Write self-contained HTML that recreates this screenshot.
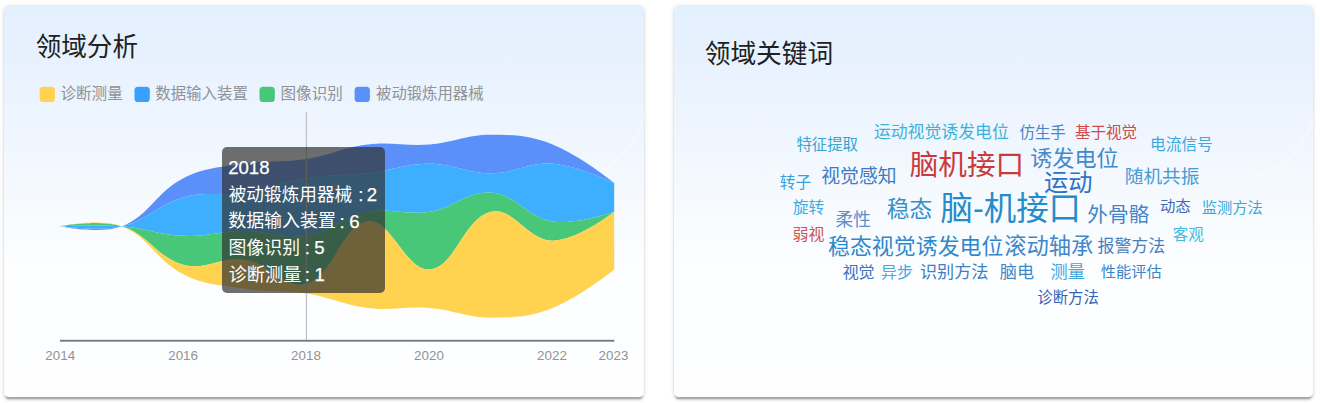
<!DOCTYPE html>
<html lang="zh-CN"><head><meta charset="utf-8"><title>领域分析</title>
<style>
html,body{margin:0;padding:0;background:#fff}
body{width:1320px;height:403px;position:relative;overflow:hidden;font-family:"Liberation Sans","Noto Sans CJK SC",sans-serif}
.card{position:absolute;top:5px;width:640px;height:392px;border-radius:5px;
 background:linear-gradient(180deg,#e3f0fe 0%,#e8f2fe 15%,#eef5fe 30%,#f4f9fe 45%,#f9fcff 58%,#fdfeff 70%,#fefeff 100%);
 box-shadow:0 3.75px 1.25px -2.5px rgba(0,0,0,.2),0 2.5px 2.5px 0 rgba(0,0,0,.14),0 1.25px 5px 0 rgba(0,0,0,.1)}
svg.l{position:absolute;left:0;top:0;font-family:"Liberation Sans","Noto Sans CJK SC",sans-serif}
.t{position:absolute;white-space:nowrap;color:transparent;margin:0}
.ax{position:absolute;top:348px;width:60px;text-align:center;font-size:13.75px;line-height:16px;color:#8b8b8b}
.tt{position:absolute;left:222.1px;top:147px;width:162.5px;height:145.5px;border-radius:5px;background:rgba(50,50,50,.7)}
.tv{position:absolute;color:#fff;font-size:17.5px;line-height:21px;white-space:pre}
</style></head><body>
<div class="card" style="left:4px;width:639.8px"></div>
<div class="card" style="left:674.2px;width:639.3px"></div>
<svg class="l" width="1320" height="403" viewBox="0 0 1320 403">
<defs><filter id="b2"><feGaussianBlur stdDeviation="1"/></filter></defs>
<g transform="translate(0 0)" fill="none" stroke="#fff" filter="url(#b2)"><path d="M1248 180C1280 172 1300 154 1314 118" stroke-width="1.8" opacity=".5"/></g><g transform="translate(-670 0)" fill="none" stroke="#fff" filter="url(#b2)"><path d="M1248 180C1280 172 1300 154 1314 118" stroke-width="1.8" opacity=".5"/></g>
<g><path d="M60.3 226.25C60.3 226.25 100.15 234.73 121.84 226.25C149.38 215.49 156.18 191.97 183.39 178.15C205.41 166.96 220.02 167.61 244.93 163.72C269.26 159.92 282.15 162.71 306.48 158.91C331.39 155.02 343.08 147.4 368.02 144.48C392.31 141.63 405.1 146.39 429.57 144.48C454.33 142.54 466.49 134.86 491.11 134.86C515.73 134.86 529.92 135.59 552.66 144.48C579.15 154.83 614.2 182.96 614.2 182.96L614.2 182.96C614.2 182.96 577.7 165.68 552.66 163.72C528.46 161.83 515.73 173.34 491.11 173.34C466.49 173.34 454.18 163.72 429.57 163.72C404.95 163.72 392.75 170.44 368.02 173.34C343.52 176.21 330.8 174.35 306.48 178.15C281.57 182.04 269.84 188.69 244.93 192.58C220.61 196.38 206.82 190.98 183.39 197.39C157.59 204.45 147.68 220.19 121.84 226.25C98.45 231.74 60.3 226.25 60.3 226.25Z" fill="#5b8ff9"/><path d="M60.3 226.25C60.3 226.25 98.45 231.74 121.84 226.25C147.68 220.19 157.59 204.45 183.39 197.39C206.82 190.98 220.61 196.38 244.93 192.58C269.84 188.69 281.57 182.04 306.48 178.15C330.8 174.35 343.52 176.21 368.02 173.34C392.75 170.44 404.95 163.72 429.57 163.72C454.18 163.72 466.49 173.34 491.11 173.34C515.73 173.34 528.46 161.83 552.66 163.72C577.7 165.68 614.2 182.96 614.2 182.96L614.2 211.82C614.2 211.82 576.2 225.12 552.66 221.44C526.96 217.42 516.38 194.55 491.11 192.58C467.14 190.71 454.76 207.88 429.57 211.82C405.52 215.58 391.77 207.18 368.02 211.82C342.53 216.8 331.93 231.89 306.48 235.87C282.7 239.59 269.55 231.06 244.93 231.06C220.32 231.06 207.9 236.83 183.39 235.87C158.66 234.9 146.61 228.19 121.84 226.25C97.38 224.34 60.3 226.25 60.3 226.25Z" fill="#3eaeff"/><path d="M60.3 226.25C60.3 226.25 97.38 224.34 121.84 226.25C146.61 228.19 158.66 234.9 183.39 235.87C207.9 236.83 220.32 231.06 244.93 231.06C269.55 231.06 282.7 239.59 306.48 235.87C331.93 231.89 342.53 216.8 368.02 211.82C391.77 207.18 405.52 215.58 429.57 211.82C454.76 207.88 467.14 190.71 491.11 192.58C516.38 194.55 526.96 217.42 552.66 221.44C576.2 225.12 614.2 211.82 614.2 211.82L614.2 211.82C614.2 211.82 577.27 240.68 552.66 240.68C528.04 240.68 513.08 206.67 491.11 211.82C463.84 218.21 455.13 267.54 429.57 269.54C405.9 271.39 391.21 218.72 368.02 221.44C341.98 224.49 334.56 275.19 306.48 283.97C285.33 290.58 270.39 263.9 244.93 259.92C221.15 256.2 206.02 270.92 183.39 264.73C156.78 257.45 148.49 234.58 121.84 226.25C99.25 219.19 60.3 226.25 60.3 226.25Z" fill="#48c778"/><path d="M60.3 226.25C60.3 226.25 99.25 219.19 121.84 226.25C148.49 234.58 156.78 257.45 183.39 264.73C206.02 270.92 221.15 256.2 244.93 259.92C270.39 263.9 285.33 290.58 306.48 283.97C334.56 275.19 341.98 224.49 368.02 221.44C391.21 218.72 405.9 271.39 429.57 269.54C455.13 267.54 463.84 218.21 491.11 211.82C513.08 206.67 528.04 240.68 552.66 240.68C577.27 240.68 614.2 211.82 614.2 211.82L614.2 269.54C614.2 269.54 579.15 297.67 552.66 308.02C529.92 316.91 515.73 317.64 491.11 317.64C466.49 317.64 454.33 309.96 429.57 308.02C405.1 306.11 392.31 310.87 368.02 308.02C343.08 305.1 331.39 297.48 306.48 293.59C282.15 289.79 269.26 292.58 244.93 288.78C220.02 284.89 205.41 285.54 183.39 274.35C156.18 260.53 149.38 237.01 121.84 226.25C100.15 217.77 60.3 226.25 60.3 226.25Z" fill="#ffd34f"/></g>
<rect x="60" y="339.8" width="554.3" height="1.9" fill="#777a80"/>
<rect x="305.8" y="112" width="1.25" height="228" fill="#bfc1c4"/>
<g><rect x="39.65" y="86.7" width="15.3" height="15.3" rx="3.6" fill="#ffd34f"/><rect x="134.5" y="86.7" width="15.3" height="15.3" rx="3.6" fill="#3aa0ff"/><rect x="259.5" y="86.7" width="15.3" height="15.3" rx="3.6" fill="#48c778"/><rect x="354.6" y="86.7" width="15.3" height="15.3" rx="3.6" fill="#5b8ff9"/></g>
<g font-size="13.4" fill="#929292" text-anchor="middle"><text x="60.25" y="360.1">2014</text><text x="183.1" y="360.1">2016</text><text x="306" y="360.1">2018</text><text x="429" y="360.1">2020</text><text x="552" y="360.1">2022</text><text x="613.5" y="360.1">2023</text></g>
<g><text x="35.63" y="55.85" font-size="25.62" fill="#212121">领域分析</text><text x="704.73" y="62.54" font-size="25.7" fill="#212121">领域关键词</text></g>
<text x="60.54" y="98.56" font-size="15.54" fill="#8f9297">诊断测量</text>
<text x="155.2" y="98.56" font-size="15.44" fill="#8f9297">数据输入装置</text>
<text x="280.49" y="98.57" font-size="15.59" fill="#8f9297">图像识别</text>
<text x="376.04" y="98.56" font-size="15.36" fill="#8f9297">被动锻炼用器械</text>
<text x="796.4" y="150.22" font-size="15.4" fill="#36a5d2">特征提取</text>
<text x="873.88" y="137.69" font-size="16.86" fill="#3db2d8">运动视觉诱发电位</text>
<text x="1019.51" y="137.96" font-size="15.41" fill="#4a86c8">仿生手</text>
<text x="1074.94" y="138.36" font-size="15.54" fill="#d24a4a">基于视觉</text>
<text x="909.7" y="174.52" font-size="28.61" fill="#cb3a3a">脑机接口</text>
<text x="1030.3" y="165.75" font-size="22.05" fill="#4389c9">诱发电位</text>
<text x="1044.1" y="190.81" font-size="24.24" fill="#2e72c8">运动</text>
<text x="821.26" y="182.81" font-size="18.87" fill="#3f7bc3">视觉感知</text>
<text x="779.87" y="187.81" font-size="15.68" fill="#36a3e0">转子</text>
<text x="792.82" y="213.11" font-size="15.79" fill="#3fabe0">旋转</text>
<text x="886.75" y="216.53" font-size="22.73" fill="#358fcb">稳态</text>
<text x="940.59" y="220.15" font-size="32.42" fill="#268bc9">脑-机接口</text>
<text x="1150.02" y="150.3" font-size="15.69" fill="#3ea7e0">电流信号</text>
<text x="1124.78" y="182.99" font-size="18.66" fill="#479bd4">随机共振</text>
<text x="1159.92" y="212.36" font-size="15.36" fill="#4568b6">动态</text>
<text x="1201.8" y="213.32" font-size="15.28" fill="#36a9d8">监测方法</text>
<text x="1087.21" y="222" font-size="20.69" fill="#4386c8">外骨骼</text>
<text x="835.58" y="226.35" font-size="17.66" fill="#5b8fcb">柔性</text>
<text x="792.44" y="239.65" font-size="15.94" fill="#cf5555">弱视</text>
<text x="828.03" y="254.33" font-size="21.93" fill="#2f88ca">稳态视觉诱发电位</text>
<text x="1004.15" y="254.48" font-size="22.27" fill="#4386c8">滚动轴承</text>
<text x="842.63" y="277.52" font-size="15.99" fill="#3f72be">视觉</text>
<text x="880.92" y="277.94" font-size="16.05" fill="#47a7e1">异步</text>
<text x="919.89" y="278.05" font-size="17.15" fill="#3f7fc3">识别方法</text>
<text x="999.77" y="278.01" font-size="17.19" fill="#3f88c8">脑电</text>
<text x="1050.6" y="277.97" font-size="17.21" fill="#3fa6dc">测量</text>
<text x="1172.71" y="239.59" font-size="15.53" fill="#47b9dc">客观</text>
<text x="1097.46" y="252.11" font-size="16.95" fill="#477fbe">报警方法</text>
<text x="1100.82" y="276.92" font-size="15.26" fill="#3a84c8">性能评估</text>
<text x="1037.29" y="302.6" font-size="15.4" fill="#3a62b0">诊断方法</text>
</svg>
<div class="t" style="left:35.63px;top:33.3px;font-size:25.62px;line-height:29.72px">领域分析</div><div class="t" style="left:704.73px;top:39.92px;font-size:25.7px;line-height:29.81px">领域关键词</div><div class="t" style="left:60.54px;top:84.89px;font-size:15.54px;line-height:18.03px">诊断测量</div><div class="t" style="left:155.2px;top:84.97px;font-size:15.44px;line-height:17.91px">数据输入装置</div><div class="t" style="left:280.49px;top:84.85px;font-size:15.59px;line-height:18.09px">图像识别</div><div class="t" style="left:376.04px;top:85.04px;font-size:15.36px;line-height:17.82px">被动锻炼用器械</div><div class="t" style="left:796.4px;top:136.67px;font-size:15.4px;line-height:17.87px">特征提取</div><div class="t" style="left:873.88px;top:122.85px;font-size:16.86px;line-height:19.56px">运动视觉诱发电位</div><div class="t" style="left:1019.51px;top:124.4px;font-size:15.41px;line-height:17.87px">仿生手</div><div class="t" style="left:1074.94px;top:124.69px;font-size:15.54px;line-height:18.02px">基于视觉</div><div class="t" style="left:909.7px;top:149.34px;font-size:28.61px;line-height:33.19px">脑机接口</div><div class="t" style="left:1030.3px;top:146.35px;font-size:22.05px;line-height:25.58px">诱发电位</div><div class="t" style="left:1044.1px;top:169.48px;font-size:24.24px;line-height:28.12px">运动</div><div class="t" style="left:821.26px;top:166.21px;font-size:18.87px;line-height:21.89px">视觉感知</div><div class="t" style="left:779.87px;top:174.01px;font-size:15.68px;line-height:18.19px">转子</div><div class="t" style="left:792.82px;top:199.22px;font-size:15.79px;line-height:18.31px">旋转</div><div class="t" style="left:886.75px;top:196.53px;font-size:22.73px;line-height:26.36px">稳态</div><div class="t" style="left:940.59px;top:191.63px;font-size:32.42px;line-height:37.61px">脑-机接口</div><div class="t" style="left:1150.02px;top:136.49px;font-size:15.69px;line-height:18.21px">电流信号</div><div class="t" style="left:1124.78px;top:166.57px;font-size:18.66px;line-height:21.64px">随机共振</div><div class="t" style="left:1159.92px;top:198.84px;font-size:15.36px;line-height:17.82px">动态</div><div class="t" style="left:1201.8px;top:199.88px;font-size:15.28px;line-height:17.72px">监测方法</div><div class="t" style="left:1087.21px;top:203.79px;font-size:20.69px;line-height:24px">外骨骼</div><div class="t" style="left:835.58px;top:210.81px;font-size:17.66px;line-height:20.49px">柔性</div><div class="t" style="left:792.44px;top:225.62px;font-size:15.94px;line-height:18.48px">弱视</div><div class="t" style="left:828.03px;top:235.03px;font-size:21.93px;line-height:25.44px">稳态视觉诱发电位</div><div class="t" style="left:1004.15px;top:234.89px;font-size:22.27px;line-height:25.83px">滚动轴承</div><div class="t" style="left:842.63px;top:263.45px;font-size:15.99px;line-height:18.55px">视觉</div><div class="t" style="left:880.92px;top:263.82px;font-size:16.05px;line-height:18.62px">异步</div><div class="t" style="left:919.89px;top:262.95px;font-size:17.15px;line-height:19.9px">识别方法</div><div class="t" style="left:999.77px;top:262.88px;font-size:17.19px;line-height:19.94px">脑电</div><div class="t" style="left:1050.6px;top:262.82px;font-size:17.21px;line-height:19.97px">测量</div><div class="t" style="left:1172.71px;top:225.93px;font-size:15.53px;line-height:18.01px">客观</div><div class="t" style="left:1097.46px;top:237.19px;font-size:16.95px;line-height:19.66px">报警方法</div><div class="t" style="left:1100.82px;top:263.49px;font-size:15.26px;line-height:17.7px">性能评估</div><div class="t" style="left:1037.29px;top:289.04px;font-size:15.4px;line-height:17.87px">诊断方法</div>
<div class="tt"></div>
<svg class="l" width="1320" height="403" viewBox="0 0 1320 403"><g font-size="18.6" fill="#fff" stroke="#fff" stroke-width=".25"><text x="228.2" y="174">2018</text><text x="358.15" y="201.4">:<tspan x="366.7">2</tspan></text><text x="339.4" y="227.5">:<tspan x="349.2">6</tspan></text><text x="304.8" y="253.9">:<tspan x="314.2">5</tspan></text><text x="304.8" y="280.5">:<tspan x="314.6">1</tspan></text></g><g fill="#ffffff"><text x="228.72" y="200.79" font-size="17.65">被动锻炼用器械</text><text x="228.2" y="227.47" font-size="17.98">数据输入装置</text><text x="228.6" y="253.59" font-size="17.86">图像识别</text><text x="228.66" y="281.22" font-size="18.16">诊断测量</text></g></svg>
<div class="t" style="left:228.72px;top:185.26px;font-size:17.65px;line-height:20.47px">被动锻炼用器械</div><div class="t" style="left:228.2px;top:211.64px;font-size:17.98px;line-height:20.86px">数据输入装置</div><div class="t" style="left:228.6px;top:237.87px;font-size:17.86px;line-height:20.72px">图像识别</div><div class="t" style="left:228.66px;top:265.24px;font-size:18.16px;line-height:21.07px">诊断测量</div>
</body></html>
